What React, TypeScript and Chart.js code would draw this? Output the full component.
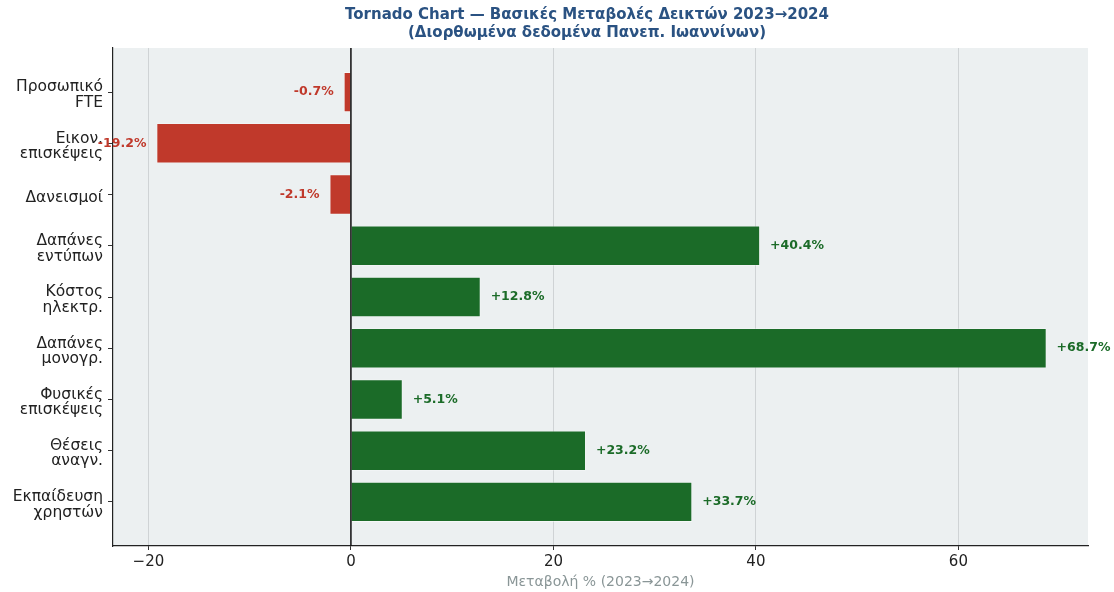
import React, { useEffect, useRef } from "react";
import { Chart, registerables } from "chart.js";
Chart.register(...registerables);

const categories: string[][] = [
  ["Προσωπικό", "FTE"],
  ["Εικον.", "επισκέψεις"],
  ["Δανεισμοί"],
  ["Δαπάνες", "εντύπων"],
  ["Κόστος", "ηλεκτρ."],
  ["Δαπάνες", "μονογρ."],
  ["Φυσικές", "επισκέψεις"],
  ["Θέσεις", "αναγν."],
  ["Εκπαίδευση", "χρηστών"],
];
const changes: number[] = [-0.7, -19.2, -2.1, 40.4, 12.8, 68.7, 5.1, 23.2, 33.7];
const xTicks: number[] = [-20, 0, 20, 40, 60];
const titleLines: string[] = [
  "Tornado Chart — Βασικές Μεταβολές Δεικτών 2023→2024",
  "(Διορθωμένα δεδομένα Πανεπ. Ιωαννίνων)",
];
const xTitle = "Μεταβολή % (2023→2024)";

const RED = "#c0392b";
const GREEN = "#1b6b28";
const FONT = "'DejaVu Sans', sans-serif";

export default function App() {
  const ref = useRef<HTMLCanvasElement | null>(null);
  useEffect(() => {
    document.body.style.margin = "0";
    const bgPlugin = {
      id: "bg",
      beforeDraw(chart: any) {
        const { ctx, chartArea: a } = chart;
        ctx.save();
        ctx.fillStyle = "#ecf0f1";
        ctx.fillRect(a.left, a.top, a.right - a.left, a.bottom - a.top);
        ctx.restore();
      },
    };
    const overlay = {
      id: "overlay",
      afterDatasetsDraw(chart: any) {
        const { ctx, chartArea: a, scales } = chart;
        const xs = scales.x, ys = scales.y;
        ctx.save();
        const x0 = xs.getPixelForValue(0);
        ctx.strokeStyle = "#111";
        ctx.lineWidth = 1.5;
        ctx.beginPath();
        ctx.moveTo(x0, a.top);
        ctx.lineTo(x0, a.bottom);
        ctx.stroke();
        ctx.font = `bold 12.5px ${FONT}`;
        ctx.textBaseline = "middle";
        changes.forEach((v, i) => {
          const y = ys.getPixelForValue(i);
          if (v < 0) {
            ctx.fillStyle = RED;
            ctx.textAlign = "right";
            ctx.fillText(`${v.toFixed(1)}%`, xs.getPixelForValue(v - 1), y);
          } else {
            ctx.fillStyle = GREEN;
            ctx.textAlign = "left";
            ctx.fillText(`+${v.toFixed(1)}%`, xs.getPixelForValue(v + 1), y);
          }
        });
        ctx.fillStyle = "#2a5282";
        ctx.font = `bold 15px ${FONT}`;
        ctx.textAlign = "center";
        ctx.fillText(titleLines[0], 587, 15);
        ctx.fillText(titleLines[1], 587, 33);
        ctx.restore();
      },
    };
    const chart = new Chart(ref.current as HTMLCanvasElement, {
      type: "bar",
      data: {
        datasets: [
          {
            data: changes.map((v, i) => ({ x: v, y: i })),
            backgroundColor: changes.map((v) => (v < 0 ? RED : GREEN)),
            borderColor: "rgba(255,255,255,0.5)",
            borderWidth: 0.8,
            barPercentage: 1,
            categoryPercentage: 0.78,
          } as any,
        ],
      },
      options: {
        indexAxis: "y",
        animation: false,
        responsive: false,
        maintainAspectRatio: false,
        layout: { padding: { top: 48, right: 26, left: 0, bottom: 0 } },
        plugins: { legend: { display: false }, tooltip: { enabled: false }, title: { display: false } },
        scales: {
          x: {
            type: "linear",
            min: -23.5,
            max: 72.8,
            afterBuildTicks: (s: any) => {
              s.ticks = xTicks.map((v) => ({ value: v }));
            },
            afterFit: (s: any) => {
              s.height = 46;
            },
            grid: { color: "#cfd3d5", lineWidth: 1, tickLength: 4, tickColor: "#333" },
            border: { color: "#222", width: 1.2 },
            ticks: {
              color: "#222",
              font: { family: FONT, size: 15 },
              padding: 3,
              callback: (v: any) => (v < 0 ? "−" + Math.abs(v) : String(v)),
            },
            title: {
              display: true,
              text: xTitle,
              color: "#8a9697",
              font: { family: FONT, size: 14 },
              padding: { top: 0, bottom: 1 },
            },
          },
          y: {
            type: "linear",
            reverse: true,
            offset: false,
            min: -0.86,
            max: 8.86,
            afterBuildTicks: (s: any) => {
              s.ticks = categories.map((_, i) => ({ value: i }));
            },
            afterFit: (s: any) => {
              s.width = 113;
            },
            grid: { offset: false, drawOnChartArea: false, tickLength: 5, tickColor: "#333" },
            border: { color: "#222", width: 1.2 },
            ticks: {
              color: "#222",
              font: { family: FONT, size: 15.5, lineHeight: 1.0 },
              padding: 5,
              labelOffset: 3,
              callback: (v: any) => categories[v] ?? "",
            },
          },
        },
      } as any,
      plugins: [bgPlugin, overlay],
    });
    return () => chart.destroy();
  }, []);
  return (
    <div style={{ width: 1114, height: 592 }}>
      <canvas ref={ref} width={1114} height={592} style={{ width: 1114, height: 592 }} />
    </div>
  );
}
